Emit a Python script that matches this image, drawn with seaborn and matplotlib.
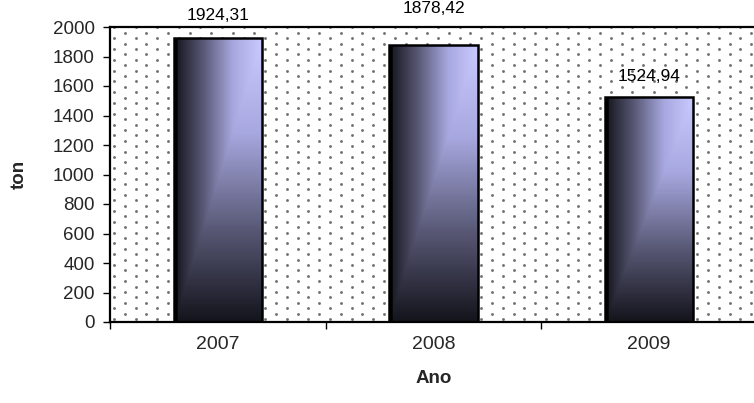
import numpy as np
import pandas as pd
import matplotlib
matplotlib.use('Agg')
import matplotlib.pyplot as plt
import seaborn as sns
from matplotlib.colors import LinearSegmentedColormap

# dados
anos = ['2007', '2008', '2009']
toneladas = [1924.31, 1878.42, 1524.94]
rotulos = ['1924,31', '1878,42', '1524,94']

df = pd.DataFrame({'Ano': anos, 'ton': toneladas})

sns.set_theme(style='white')
plt.rcParams['font.family'] = ['Liberation Sans', 'DejaVu Sans']

W, H = 754, 403
fig = plt.figure(figsize=(W / 100, H / 100), dpi=100)
# area do grafico (em pixels): x 110..757, y 27..322
ax = fig.add_axes([110 / W, 1 - 322 / H, 647 / W, 295 / H])

sns.barplot(data=df, x='Ano', y='ton', ax=ax, width=0.41,
            color='#8080c0', edgecolor='black', linewidth=1.8, zorder=3)

ax.set_xlim(-0.5, 2.5)
ax.set_ylim(0, 2000)
ax.set_yticks(np.arange(0, 2001, 200))

# fundo pontilhado
pw, ph = 647, 295
pts = []
for k, yy in enumerate(np.arange(3, ph, 5.4)):
    x0 = 4 + (k % 2) * 10.8
    for xx in np.arange(x0, pw, 21.6):
        pts.append((xx / pw, yy / ph))
pts = np.array(pts)
ax.scatter(pts[:, 0], pts[:, 1], s=4.2, color='#6e6e6e', linewidths=0,
           transform=ax.transAxes, zorder=1, clip_on=True)

# gradiente nas barras
cmap = LinearSegmentedColormap.from_list('grad', ['#14141c', '#5a5a78', '#a8a8e0', '#cacaff'])
nx, ny = 120, 300
u = np.linspace(0, 1, nx)[None, :]
v = np.linspace(1, 0, ny)[:, None]
g = np.minimum(u, v)
rgb = cmap(g)
rgb[:, :5, :3] = 0.0  # faixa escura a esquerda
for p in ax.patches:
    x0, y0 = p.get_x(), p.get_y()
    w, h = p.get_width(), p.get_height()
    im = ax.imshow(rgb, extent=[x0, x0 + w, y0, y0 + h], aspect='auto',
                   zorder=3.5, interpolation='bilinear')
    im.set_clip_path(p)
    p.set_facecolor('none')
    p.set_zorder(4)

ax.set_aspect('auto')
ax.set_xlim(-0.5, 2.5)
ax.set_ylim(0, 2000)

# rotulos de valor
offsets = [16, 26, 14.5]
for i, (val, txt) in enumerate(zip(toneladas, rotulos)):
    ax.annotate(txt, (i, val), xytext=(0, offsets[i]), textcoords='offset points',
                ha='center', va='center', fontsize=12.5, color='black', zorder=6,
                annotation_clip=False)

for s in ['left', 'bottom', 'top', 'right']:
    ax.spines[s].set_visible(True)
    ax.spines[s].set_color('black')
    ax.spines[s].set_linewidth(1.6)
    ax.spines[s].set_zorder(5)

ax.tick_params(axis='y', which='major', direction='out', length=5, width=1,
               color='black', left=True, labelsize=13.5, pad=6)
ax.tick_params(axis='x', which='major', length=0, labelsize=14, pad=10)
ax.set_xticks([-0.5, 0.5, 1.5, 2.5], minor=True)
ax.tick_params(axis='x', which='minor', direction='out', length=5, width=1,
               color='black', bottom=True)

ax.set_xlabel('Ano', fontsize=13.5, fontweight='bold', labelpad=12)
ax.set_ylabel('ton', fontsize=13.5, fontweight='bold', labelpad=18)
ax.grid(False)
ax.set_facecolor('white')

fig.savefig('out.png', dpi=100)
